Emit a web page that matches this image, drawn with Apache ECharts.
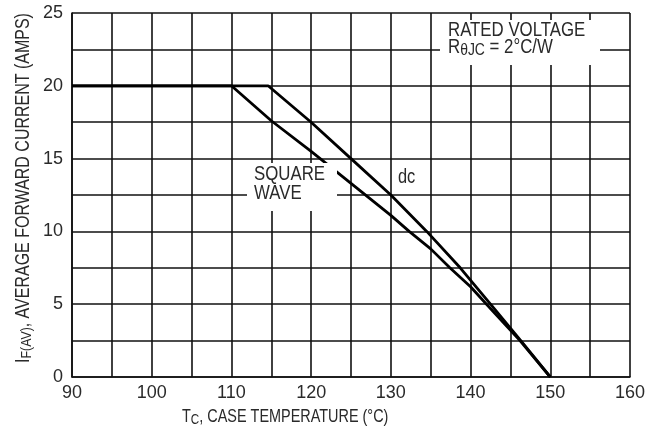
<!DOCTYPE html>
<html>
<head>
<meta charset="utf-8">
<script src="https://cdn.jsdelivr.net/npm/echarts@6/dist/echarts.min.js"></script>
<style>html,body{margin:0;padding:0;background:#fff;}#c{width:651px;height:434px;}</style>
</head>
<body>
<div id="c"></div>
<script>
const dcCurve = [[90,20],[114.6,20],[120,17.5],[125,15],[130,12.5],[134.5,10],[138.7,7.5],[142.5,5],[146.3,2.5],[150,0]];
const squareWave = [[90,20],[110,20],[115,17.6],[120,15.5],[125,13.3],[130,11.1],[132.3,10],[135,8.8],[137.4,7.5],[140,6.2],[142,5],[146.2,2.5],[150,0]];
const xTickLabels = [90,100,110,120,130,140,150,160];
const yTickLabels = [0,5,10,15,20,25];

const AXFONT = '"Liberation Sans",sans-serif';
const FONT = '"Liberation Sans",Arial,sans-serif';
const SX = 0.82;
const TXT = '#2a2a2a';
function richSub(big, small, drop) {
  return {
    m:{fontFamily:FONT,fontSize:big,fill:TXT,lineHeight:big+2},
    s:{fontFamily:FONT,fontSize:small,fill:TXT,lineHeight:big+2,padding:[drop,0,0,0],verticalAlign:'bottom'}
  };
}
const chart = echarts.init(document.getElementById('c'));
chart.setOption({
  backgroundColor:'#fff',
  animation:false,
  grid:{left:72,right:21,top:13,bottom:57},
  xAxis:{type:'value',min:90,max:160,interval:5,
    axisLine:{show:true,lineStyle:{color:'#111',width:1.6}},
    axisTick:{show:false},
    splitLine:{show:true,lineStyle:{color:'#111',width:1.6}},
    axisLabel:{color:TXT,fontFamily:AXFONT,fontSize:18,margin:7,
      formatter:v=>xTickLabels.includes(v)?String(v):''}
  },
  yAxis:{type:'value',min:0,max:25,interval:2.5,
    axisLine:{show:true,lineStyle:{color:'#111',width:1.6}},
    axisTick:{show:false},
    splitLine:{show:true,lineStyle:{color:'#111',width:1.6}},
    axisLabel:{color:TXT,fontFamily:AXFONT,fontSize:18,margin:9,
      formatter:v=>yTickLabels.includes(v)?String(v):''}
  },
  series:[
    {type:'line',name:'dc',data:dcCurve,showSymbol:false,lineStyle:{color:'#000',width:2.8},z:5},
    {type:'line',name:'square',data:squareWave,showSymbol:false,lineStyle:{color:'#000',width:2.8},z:5}
  ],
  graphic:[
    {type:'rect',shape:{x:440,y:20,width:160,height:45},style:{fill:'#fff'},z:10},
    {type:'text',x:448,y:20,scaleX:SX,z:11,style:{text:'RATED VOLTAGE',font:'20.5px '+FONT,fill:TXT}},
    {type:'text',x:448,y:36,scaleX:SX,z:11,style:{text:'{m|R}{s|θJC}{m| = 2°C/W}',fill:TXT,rich:richSub(20.5,17,9)}},
    {type:'rect',shape:{x:247,y:163,width:90,height:48},style:{fill:'#fff'},z:10},
    {type:'text',x:254,y:165,scaleX:SX,z:11,style:{text:'SQUARE\nWAVE',font:'20.5px '+FONT,fill:TXT,lineHeight:19}},
    {type:'text',x:398,y:167,scaleX:SX,z:11,style:{text:'dc',font:'20px '+FONT,fill:TXT}},
    {type:'text',x:182,y:407,scaleX:0.78,z:11,style:{text:'{m|T}{s|C}{m|, CASE TEMPERATURE (°C)}',fill:TXT,rich:richSub(18.5,15,7)}},
    {type:'text',x:24,y:188,rotation:Math.PI/2,scaleX:SX,z:11,style:{text:'{m|I}{s|F(AV)}{m|, AVERAGE FORWARD CURRENT (AMPS)}',fill:TXT,align:'center',verticalAlign:'middle',rich:richSub(19.5,15,8)}}
  ]
});
</script>
</body>
</html>
